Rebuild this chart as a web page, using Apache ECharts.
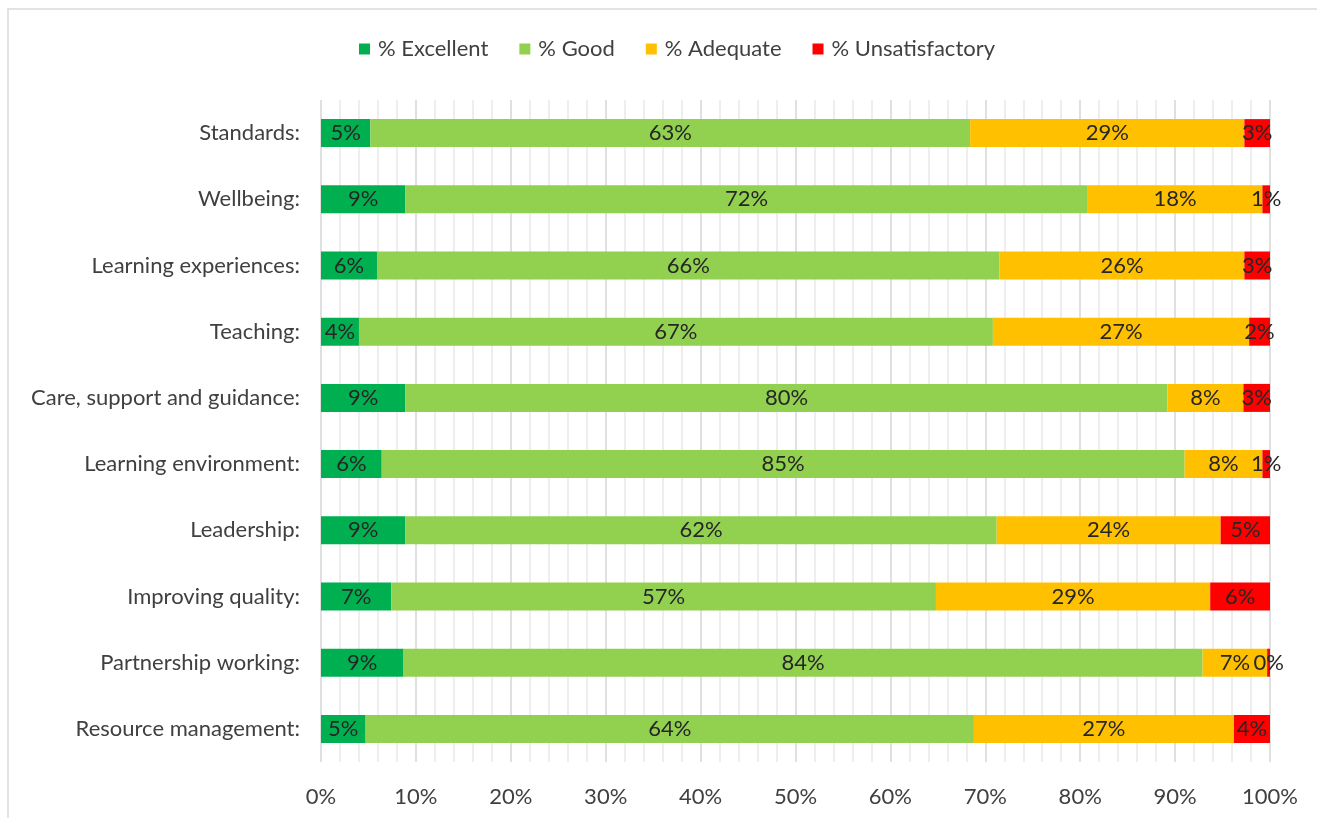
<!DOCTYPE html>
<html>
<head>
<meta charset="utf-8">
<script src="https://cdn.jsdelivr.net/npm/echarts@6/dist/echarts.min.js"></script>
<style>
  html, body { margin: 0; padding: 0; background: #ffffff; }
  #frame { position: absolute; left: 7px; top: 8px; width: 1310px; height: 810px;
           border-top: 2px solid #e3e3e3; border-left: 2px solid #e3e3e3; }
  #chart { position: absolute; left: 0; top: 0; width: 1317px; height: 818px; }
</style>
</head>
<body>
<div id="frame"></div>
<div id="chart"></div>
<script>
// Inspection areas, top to bottom
const categories = [
  'Standards:', 'Wellbeing:', 'Learning experiences:', 'Teaching:',
  'Care, support and guidance:', 'Learning environment:', 'Leadership:',
  'Improving quality:', 'Partnership working:', 'Resource management:'
];

// Share of judgements per grade (percent of all inspections)
const excellent      = [5.2, 8.9, 5.9, 4.0, 8.9, 6.4, 8.9, 7.4, 8.7, 4.7];
const good           = [63.2, 71.9, 65.6, 66.8, 80.3, 84.6, 62.3, 57.4, 84.2, 64.1];
const adequate       = [28.9, 18.4, 25.8, 27.0, 8.0, 8.2, 23.6, 28.9, 6.8, 27.4];
const unsatisfactory = [2.7, 0.8, 2.7, 2.2, 2.8, 0.8, 5.2, 6.3, 0.3, 3.8];

const seriesNames = ['% Excellent', '% Good', '% Adequate', '% Unsatisfactory'];
const seriesColors = ['#00b050', '#92d050', '#ffc000', '#ff0000'];
const seriesData = [excellent, good, adequate, unsatisfactory];

const FONT = 'Lato, "Noto Sans", sans-serif';

const chart = echarts.init(document.getElementById('chart'), null, { renderer: 'canvas' });

chart.setOption({
  animation: false,
  backgroundColor: 'transparent',
  legend: {
    top: 33,
    left: 354,
    itemWidth: 11,
    itemHeight: 11,
    itemGap: 31,
    icon: 'rect',
    textStyle: { fontFamily: FONT, fontSize: 22, color: '#404040', padding: [0, 0, 0, 3] },
    data: seriesNames
  },
  grid: { left: 321, right: 47, top: 100, bottom: 56, containLabel: false },
  xAxis: {
    type: 'value',
    min: 0,
    max: 100,
    interval: 10,
    axisLine: { show: false },
    axisTick: { show: false },
    axisLabel: {
      formatter: v => v + '%',
      fontFamily: FONT, fontSize: 22, color: '#404040', margin: 24
    },
    splitLine: { show: true, lineStyle: { color: '#d6d6d6', width: 1.5 } },
    minorTick: { show: false, splitNumber: 5 },
    minorSplitLine: { show: true, lineStyle: { color: '#e9e9e9', width: 1.5 } }
  },
  yAxis: {
    type: 'category',
    inverse: true,
    data: categories,
    axisLine: { show: false },
    axisTick: { show: false },
    axisLabel: { fontFamily: FONT, fontSize: 22, color: '#404040', margin: 21 }
  },
  series: seriesNames.map((name, i) => ({
    name,
    type: 'bar',
    stack: 'total',
    barWidth: 28,
    itemStyle: { color: seriesColors[i] },
    label: {
      show: true,
      position: 'inside',
      formatter: p => Math.round(p.value) + '%',
      fontFamily: FONT,
      fontSize: 22,
      color: '#262626'
    },
    data: seriesData[i]
  }))
});
</script>
</body>
</html>
